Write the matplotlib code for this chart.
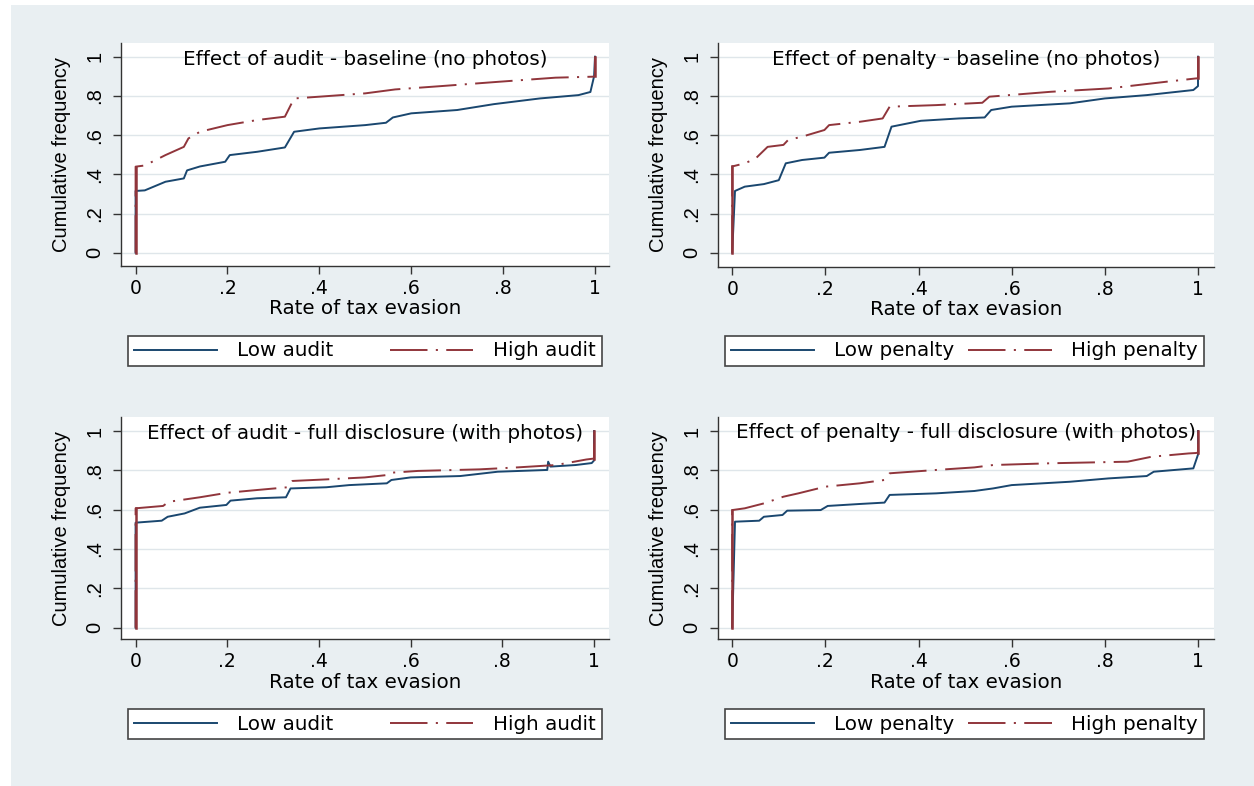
import matplotlib
matplotlib.use("Agg")
import matplotlib.pyplot as plt
from matplotlib.patches import Rectangle

# Panel 1: Effect of audit - baseline (no photos)
a_base_low_x  = [0, 0, 0.02, 0.065, 0.105, 0.112, 0.14, 0.195, 0.205, 0.265, 0.325, 0.345, 0.4, 0.5, 0.545, 0.56, 0.6, 0.7, 0.78, 0.88, 0.964, 0.99, 0.998, 1.0]
a_base_low_y  = [0, 0.315, 0.318, 0.362, 0.379, 0.42, 0.44, 0.464, 0.498, 0.515, 0.537, 0.617, 0.634, 0.651, 0.663, 0.69, 0.711, 0.728, 0.758, 0.787, 0.804, 0.82, 0.9, 1.0]
a_base_high_x = [0, 0, 0.02, 0.065, 0.105, 0.115, 0.14, 0.2, 0.265, 0.325, 0.345, 0.4, 0.5, 0.565, 0.665, 0.79, 0.914, 0.995, 1.0, 1.0]
a_base_high_y = [0, 0.439, 0.445, 0.498, 0.54, 0.583, 0.617, 0.651, 0.677, 0.694, 0.787, 0.796, 0.813, 0.833, 0.85, 0.872, 0.893, 0.898, 0.9, 1.0]

# Panel 2: Effect of penalty - baseline (no photos)
p_base_low_x  = [0, 0.006, 0.027, 0.068, 0.1, 0.115, 0.15, 0.198, 0.208, 0.274, 0.327, 0.342, 0.405, 0.487, 0.542, 0.556, 0.6, 0.725, 0.8, 0.89, 0.99, 1.0, 1.0]
p_base_low_y  = [0, 0.315, 0.337, 0.35, 0.37, 0.456, 0.473, 0.485, 0.51, 0.524, 0.54, 0.643, 0.673, 0.685, 0.69, 0.728, 0.745, 0.762, 0.787, 0.804, 0.83, 0.85, 1.0]
p_base_high_x = [0, 0, 0.027, 0.05, 0.076, 0.11, 0.12, 0.15, 0.198, 0.208, 0.274, 0.323, 0.338, 0.438, 0.537, 0.552, 0.684, 0.808, 0.931, 0.995, 1.0, 1.0]
p_base_high_y = [0, 0.44, 0.456, 0.48, 0.54, 0.55, 0.575, 0.592, 0.626, 0.651, 0.668, 0.685, 0.745, 0.753, 0.765, 0.796, 0.821, 0.838, 0.872, 0.889, 0.89, 1.0]

# Panel 3: Effect of audit - full disclosure (with photos)
a_full_low_x  = [0, 0, 0.057, 0.07, 0.107, 0.14, 0.198, 0.207, 0.265, 0.328, 0.338, 0.416, 0.466, 0.548, 0.558, 0.6, 0.708, 0.79, 0.898, 0.9, 0.905, 0.96, 0.995, 1.0, 1.0]
a_full_low_y  = [0, 0.534, 0.544, 0.564, 0.581, 0.61, 0.624, 0.646, 0.658, 0.663, 0.708, 0.714, 0.725, 0.734, 0.751, 0.764, 0.771, 0.793, 0.802, 0.844, 0.819, 0.827, 0.837, 0.85, 1.0]
a_full_high_x = [0, 0, 0.06, 0.072, 0.14, 0.2, 0.265, 0.332, 0.342, 0.416, 0.5, 0.548, 0.558, 0.616, 0.75, 0.833, 0.917, 0.983, 1.0, 1.0]
a_full_high_y = [0, 0.607, 0.619, 0.64, 0.663, 0.686, 0.7, 0.714, 0.746, 0.754, 0.764, 0.776, 0.788, 0.797, 0.805, 0.815, 0.827, 0.855, 0.86, 1.0]

# Panel 4: Effect of penalty - full disclosure (with photos)
p_full_low_x  = [0, 0.006, 0.058, 0.068, 0.108, 0.118, 0.19, 0.205, 0.274, 0.327, 0.338, 0.438, 0.52, 0.56, 0.6, 0.725, 0.808, 0.89, 0.905, 0.99, 1.0, 1.0]
p_full_low_y  = [0, 0.539, 0.544, 0.564, 0.573, 0.595, 0.598, 0.619, 0.629, 0.636, 0.675, 0.683, 0.695, 0.708, 0.725, 0.742, 0.759, 0.771, 0.793, 0.81, 0.88, 1.0]
p_full_high_x = [0, 0, 0.027, 0.068, 0.11, 0.142, 0.2, 0.274, 0.327, 0.338, 0.438, 0.52, 0.56, 0.684, 0.849, 0.9, 0.98, 0.995, 1.0, 1.0]
p_full_high_y = [0, 0.598, 0.607, 0.632, 0.666, 0.683, 0.717, 0.734, 0.751, 0.785, 0.802, 0.815, 0.827, 0.836, 0.844, 0.869, 0.886, 0.888, 0.89, 1.0]

titles = ["Effect of audit - baseline (no photos)",
          "Effect of penalty - baseline (no photos)",
          "Effect of audit - full disclosure (with photos)",
          "Effect of penalty - full disclosure (with photos)"]
low_labels = ["Low audit", "Low penalty", "Low audit", "Low penalty"]
high_labels = ["High audit", "High penalty", "High audit", "High penalty"]
xticks = [0, 0.2, 0.4, 0.6, 0.8, 1.0]
xtick_labels = ["0", ".2", ".4", ".6", ".8", "1"]
yticks = [0, 0.2, 0.4, 0.6, 0.8, 1.0]
ytick_labels = ["0", ".2", ".4", ".6", ".8", "1"]
xlabel_text = "Rate of tax evasion"
ylabel_text = "Cumulative frequency"

lows = [(a_base_low_x, a_base_low_y), (p_base_low_x, p_base_low_y),
        (a_full_low_x, a_full_low_y), (p_full_low_x, p_full_low_y)]
highs = [(a_base_high_x, a_base_high_y), (p_base_high_x, p_base_high_y),
         (a_full_high_x, a_full_high_y), (p_full_high_x, p_full_high_y)]

# ---------------- layout ----------------
W, H = 1254, 786
NAVY = "#1a476f"
MAROON = "#90353b"
BG = "#e9eff2"
GRID = "#dfe6ea"
HFONT = "DejaVu Sans"
VFONT = "Liberation Sans"
plt.rcParams["lines.scale_dashes"] = False

fig = plt.figure(figsize=(W / 100, H / 100), dpi=100)
fig.patch.set_facecolor("white")
fig.patches.append(Rectangle((11 / W, 0), 1 - 11 / W, 1 - 5 / H,
                             transform=fig.transFigure, facecolor=BG,
                             edgecolor="none", zorder=-10))

def rect(left, right, top, bottom):
    return [left / W, 1 - bottom / H, (right - left) / W, (bottom - top) / H]

# (left, right, top, bottom, px of x=0, px of x=1, py of y=0, py of y=1)
panels = [
    (121, 609, 43, 265.5, 135.6, 595.0, 252.7, 56.7),
    (718, 1214, 43, 266.5, 732.2, 1198.0, 252.7, 56.7),
    (121, 609, 417, 639.3, 135.6, 594.0, 627.7, 431.0),
    (718, 1214, 417, 639.0, 732.2, 1198.0, 627.7, 431.0),
]
legends = [(128, 602, 332, 370), (725, 1204, 332, 370),
           (128, 602, 705, 743), (725, 1204, 705, 743)]

HIGH_DASH = (0, (27, 6, 1.5, 6))

for i, (l, r, t, b, x0, x1, y0, y1) in enumerate(panels):
    ax = fig.add_axes(rect(l, r, t, b))
    ax.set_facecolor("white")
    sx = x1 - x0
    sy = y0 - y1
    ax.set_xlim((l - x0) / sx, (r - x0) / sx)
    ax.set_ylim(-(b - y0) / sy, (y0 - t) / sy)
    for s in ["top", "right"]:
        ax.spines[s].set_visible(False)
    for s in ["left", "bottom"]:
        ax.spines[s].set_color("#333333")
        ax.spines[s].set_linewidth(1.0)
    ax.set_xticks(xticks)
    ax.set_xticklabels(xtick_labels, fontfamily=HFONT, fontsize=13.5)
    ax.set_yticks(yticks)
    ax.set_yticklabels(ytick_labels, fontfamily=VFONT, fontsize=14.5,
                       rotation=90, va="center")
    ax.tick_params(axis="both", direction="out", length=6, width=1.0,
                   color="#333333")
    ax.tick_params(axis="x", pad=3.5)
    ax.tick_params(axis="y", pad=6)
    ax.grid(axis="y", color=GRID, linewidth=1.0)
    ax.set_axisbelow(True)
    ax.set_xlabel(xlabel_text, fontfamily=HFONT, fontsize=14.3, labelpad=1)
    ax.set_ylabel(ylabel_text, fontfamily=VFONT, fontsize=14.5, labelpad=10)

    lx, ly = lows[i]
    hx, hy = highs[i]
    ax.plot(lx, ly, color=NAVY, linewidth=1.4, label=low_labels[i], zorder=3)
    ax.plot(hx, hy, color=MAROON, linewidth=1.4, linestyle=HIGH_DASH,
            label=high_labels[i], zorder=4)
    # vertical jumps at x = 0 and x = 1 render as solid strokes in the original
    ax.plot(hx[:2], hy[:2], color=MAROON, linewidth=1.8, zorder=4)
    ax.plot(hx[-2:], hy[-2:], color=MAROON, linewidth=1.8, zorder=4)
    ax.text(0.5, 0.928, titles[i], transform=ax.transAxes, ha="center",
            va="center", fontfamily=HFONT, fontsize=14.3)

    ll, lr, lt, lb = legends[i]
    leg = ax.legend(loc="center", ncol=2, mode="expand",
                    bbox_to_anchor=(ll / W, 1 - lb / H, (lr - ll) / W, (lb - lt) / H),
                    bbox_transform=fig.transFigure,
                    prop={"family": HFONT, "size": 14.3},
                    frameon=True, fancybox=False, edgecolor="#444444",
                    framealpha=1.0, borderpad=0.3, handlelength=4.2,
                    handletextpad=1.0, borderaxespad=0.0)
    leg.get_frame().set_linewidth(1.2)

fig.savefig("out.png", dpi=100, facecolor=fig.get_facecolor())
